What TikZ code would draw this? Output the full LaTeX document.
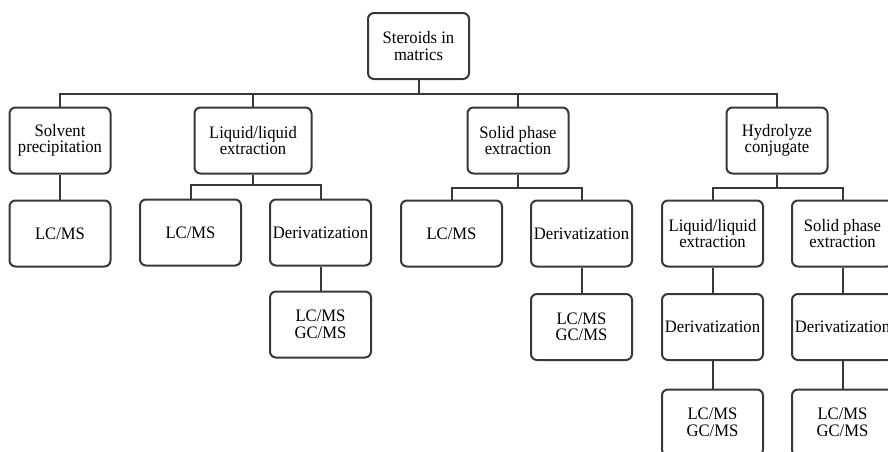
\documentclass[tikz,border=0pt]{standalone}
\usepackage{fontspec}
\setmainfont{Liberation Serif}
\newfontfamily\boxfont[FakeStretch=0.95]{Liberation Serif}
\begin{document}
\begin{tikzpicture}[x=1pt,y=-1pt,
  box/.style={draw=black!78, line width=2pt, rounded corners=6pt, minimum width=101pt,
    minimum height=66pt, inner sep=0pt, align=center, font=\boxfont\fontsize{17.5}{16.5}\selectfont},
  link/.style={draw=black!78, line width=2pt}]
\useasboundingbox (0,0) rectangle (888,451);
\clip (0,0) rectangle (888,451);
% nodes
\node[box] (root) at (418.5,46) {Steroids in\\matrics};
\node[box] (solv) at (60,140.5) {Solvent\\precipitation};
\node[box, minimum width=117pt] (ll) at (253,140.5) {Liquid/liquid\\extraction};
\node[box] (spe) at (518,140.5) {Solid phase\\extraction};
\node[box] (hyd) at (777,140.5) {Hydrolyze\\conjugate};
% level 3
\node[box] (solvlc) at (60,233.5) {LC/MS};
\node[box] (lllc) at (190.5,232.5) {LC/MS};
\node[box] (llder) at (320.5,232.5) {Derivatization};
\node[box] (spelc) at (451.5,233.5) {LC/MS};
\node[box] (speder) at (581.5,233.5) {Derivatization};
\node[box] (hydll) at (712.5,233.5) {Liquid/liquid\\extraction};
\node[box] (hydspe) at (842.5,233.5) {Solid phase\\extraction};
% level 4
\node[box] (llms) at (320.5,324.5) {LC/MS\\GC/MS};
\node[box] (spems) at (581.5,327) {LC/MS\\GC/MS};
\node[box] (hydllder) at (712.5,327) {Derivatization};
\node[box] (hydspeder) at (842.5,327) {Derivatization};
% level 5
\node[box] (hydllms) at (712.5,422.5) {LC/MS\\GC/MS};
\node[box] (hydspems) at (842.5,422.5) {LC/MS\\GC/MS};
% bus coordinates
\coordinate (bus) at (0,94);
\coordinate (llbus) at (0,185);
\coordinate (spebus) at (0,188);
\coordinate (hydbus) at (0,188);
% connectors
\draw[link] (root.south) -- (root.south |- bus);
\draw[link] (solv.north) -- (solv.north |- bus) -- (hyd.north |- bus) -- (hyd.north);
\draw[link] (ll.north) -- (ll.north |- bus);
\draw[link] (spe.north) -- (spe.north |- bus);
\draw[link] (solv.south) -- (solvlc.north);
\draw[link] (ll.south) -- (ll.south |- llbus);
\draw[link] (lllc.north) -- (lllc.north |- llbus) -- (llder.north |- llbus) -- (llder.north);
\draw[link] (spe.south) -- (spe.south |- spebus);
\draw[link] (spelc.north) -- (spelc.north |- spebus) -- (speder.north |- spebus) -- (speder.north);
\draw[link] (hyd.south) -- (hyd.south |- hydbus);
\draw[link] (hydll.north) -- (hydll.north |- hydbus) -- (hydspe.north |- hydbus) -- (hydspe.north);
\draw[link] (llder.south) -- (llms.north);
\draw[link] (speder.south) -- (spems.north);
\draw[link] (hydll.south) -- (hydllder.north);
\draw[link] (hydspe.south) -- (hydspeder.north);
\draw[link] (hydllder.south) -- (hydllms.north);
\draw[link] (hydspeder.south) -- (hydspems.north);
\end{tikzpicture}
\end{document}
